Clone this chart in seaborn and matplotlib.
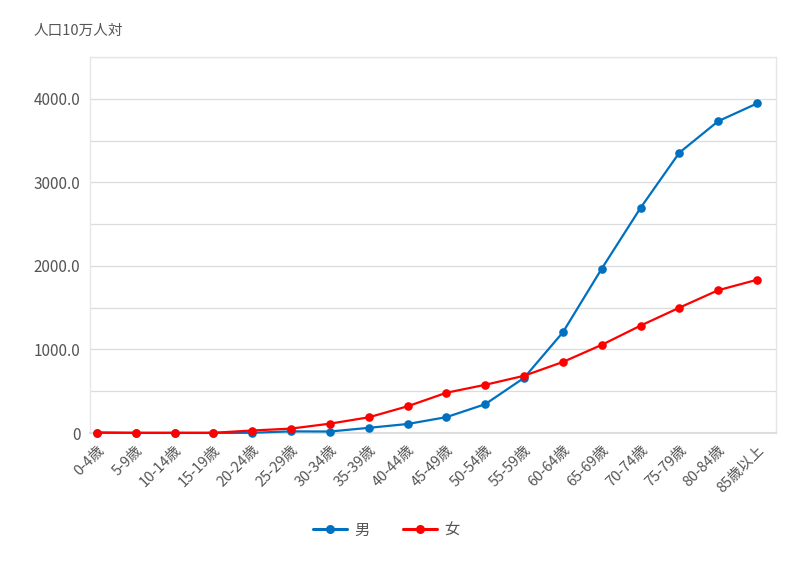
import matplotlib
matplotlib.use("Agg")
import matplotlib.pyplot as plt
import seaborn as sns
import pandas as pd
from matplotlib.ticker import MultipleLocator, FuncFormatter
from matplotlib.lines import Line2D

categories = ["0-4歳", "5-9歳", "10-14歳", "15-19歳", "20-24歳", "25-29歳", "30-34歳",
              "35-39歳", "40-44歳", "45-49歳", "50-54歳", "55-59歳", "60-64歳", "65-69歳",
              "70-74歳", "75-79歳", "80-84歳", "85歳以上"]
male = [5, 1, 1, 1, 3, 20, 18, 62, 108, 190, 345, 660, 1205, 1966, 2694, 3355, 3732, 3944]
female = [5, 3, 3, 3, 30, 53, 112, 188, 320, 482, 577, 685, 850, 1055, 1285, 1500, 1709, 1834]
series_names = ["男", "女"]
colors = ["#0070c0", "#ff0000"]

sns.set_theme(style="white")
plt.rcParams['font.family'] = ['Noto Sans CJK JP', 'DejaVu Sans']

df = pd.DataFrame({
    "x": list(range(len(categories))) * 2,
    "value": male + female,
    "series": [series_names[0]] * len(categories) + [series_names[1]] * len(categories),
})

fig = plt.figure(figsize=(8, 5.62), dpi=100)
ax = fig.add_axes([0.1125, 0.2295, 0.8575, 0.669])

sns.lineplot(data=df, x="x", y="value", hue="series", palette=colors, marker="o",
             markersize=6.2, markeredgewidth=0, linewidth=1.6, ax=ax, legend=False)
for ln in ax.lines:
    ln.set_clip_on(False)
    ln.set_zorder(5)

ax.set_xlim(-0.18, 17.49)
ax.set_ylim(0, 4500)
ax.yaxis.set_major_locator(MultipleLocator(500))
ax.yaxis.set_major_formatter(FuncFormatter(lambda v, p: "0" if v == 0 else (f"{v:.1f}" if v % 1000 == 0 else "")))
ax.grid(axis="y", color="#dcdcdc", linewidth=0.9)
ax.set_axisbelow(True)
ax.set_xticks(range(len(categories)))
ax.set_xticklabels(categories, rotation=45, ha="right", rotation_mode="anchor")
ax.tick_params(axis="x", length=0, pad=7, labelsize=10.5, labelcolor="#555555")
ax.tick_params(axis="y", length=0, pad=7, labelsize=11, labelcolor="#555555")
ax.set_xlabel("")
ax.set_ylabel("")
for s in ["top", "right", "left"]:
    ax.spines[s].set_color("#e6e6e6")
    ax.spines[s].set_linewidth(1)
ax.spines["bottom"].set_color("#dddddd")
ax.spines["bottom"].set_linewidth(1.5)

fig.text(34 / 800, 1 - 31 / 562, "人口10万人対", fontsize=10.5, color="#555555", va="center", ha="left")

handles = [Line2D([], [], color=c, marker="o", markersize=6.5, markeredgewidth=0, linewidth=2.2) for c in colors]
fig.legend(handles, series_names, loc="center", bbox_to_anchor=(0.483, 1 - 530 / 562), ncol=2,
           frameon=False, fontsize=11, labelcolor="#555555", handlelength=2.2, columnspacing=2.2,
           handletextpad=0.5)

fig.savefig("out.png", dpi=100, facecolor="white")
